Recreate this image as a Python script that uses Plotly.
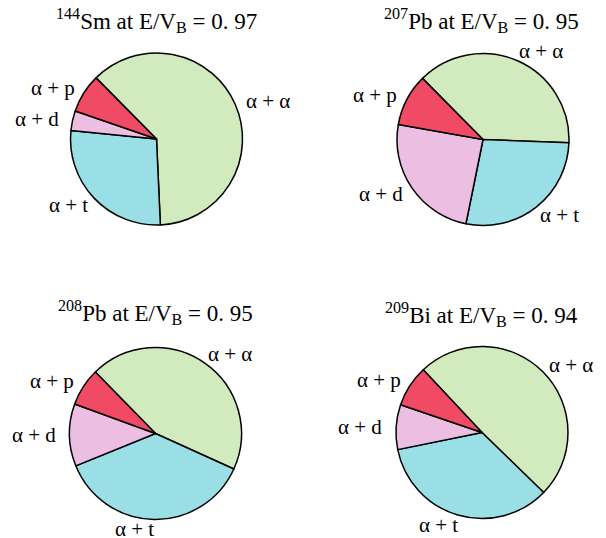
import math
import plotly.graph_objects as go

# ---- data (percent of each breakup channel) ----
labels = ["α + α", "α + t", "α + d", "α + p"]
sm144 = [61.7, 27.3, 3.7, 7.3]
pb207 = [38.0, 27.6, 24.6, 9.8]
pb208 = [44.1, 37.1, 11.7, 7.1]
bi209 = [49.2, 34.5, 8.4, 7.8]
titles = [
    "<sup>144</sup>Sm at E/V<sub>B</sub> = 0. 97",
    "<sup>207</sup>Pb at E/V<sub>B</sub> = 0. 95",
    "<sup>208</sup>Pb at E/V<sub>B</sub> = 0. 95",
    "<sup>209</sup>Bi at E/V<sub>B</sub> = 0. 94",
]
series = [sm144, pb207, pb208, bi209]

# ---- style / layout ----
colors = ["#D2EBBE", "#9ADEE6", "#ECBEE2", "#F04A64"]
W, H = 606, 538
R = 86
centers = [(156.5, 139), (483, 139.5), (155.5, 433.5), (482, 432.5)]
rotations = [-44.7, -44.7, -44.4, -43.1]
title_pos = [(156, 20), (481.5, 20), (155, 312), (481, 314)]
FONT = "Liberation Serif"
LABEL_SIZE = 21
TITLE_SIZE = 23

fig = go.Figure()
annotations = []
for vals, (cx, cy), rot, title, (tx, ty) in zip(series, centers, rotations, titles, title_pos):
    fig.add_trace(go.Pie(
        values=vals, labels=labels, sort=False, direction="clockwise",
        rotation=rot, textinfo="none", hoverinfo="label+value",
        marker=dict(colors=colors, line=dict(color="black", width=1.5)),
        domain=dict(x=[(cx - R) / W, (cx + R) / W], y=[1 - (cy + R) / H, 1 - (cy - R) / H]),
        showlegend=False,
    ))
    # slice labels placed outside each slice at its mid angle
    total = sum(vals)
    cum = 0.0
    h = 20
    for v, lab in zip(vals, labels):
        ang = math.radians((360 + rot) + (cum + v / 2) / total * 360)
        cum += v
        s, c = math.sin(ang), math.cos(ang)
        rr = R * (1 + 0.08 * s * s)
        px, py = cx + rr * s, cy - rr * c
        right = s > 0
        annotations.append(dict(
            x=px / W, y=1 - py / H, xref="paper", yref="paper",
            text=lab, showarrow=False,
            xanchor="left" if right else "right", yanchor="middle",
            xshift=(h / 4) * (s * s - 0.5 * c * c) * (1 if right else -1),
            yshift=(h / 2) * c * c * (1 if c > 0 else -1),
            font=dict(family=FONT, size=LABEL_SIZE, color="black"),
        ))
    annotations.append(dict(
        x=tx / W, y=1 - ty / H, xref="paper", yref="paper",
        text=title, showarrow=False, xanchor="center", yanchor="middle",
        font=dict(family=FONT, size=TITLE_SIZE, color="black"),
    ))

fig.update_layout(
    width=W, height=H,
    margin=dict(l=0, r=0, t=0, b=0),
    paper_bgcolor="white", plot_bgcolor="white",
    font=dict(family=FONT),
    annotations=annotations,
)
fig.write_html("out.html", config={"displayModeBar": False},
               post_script="document.body.style.margin='0';")
